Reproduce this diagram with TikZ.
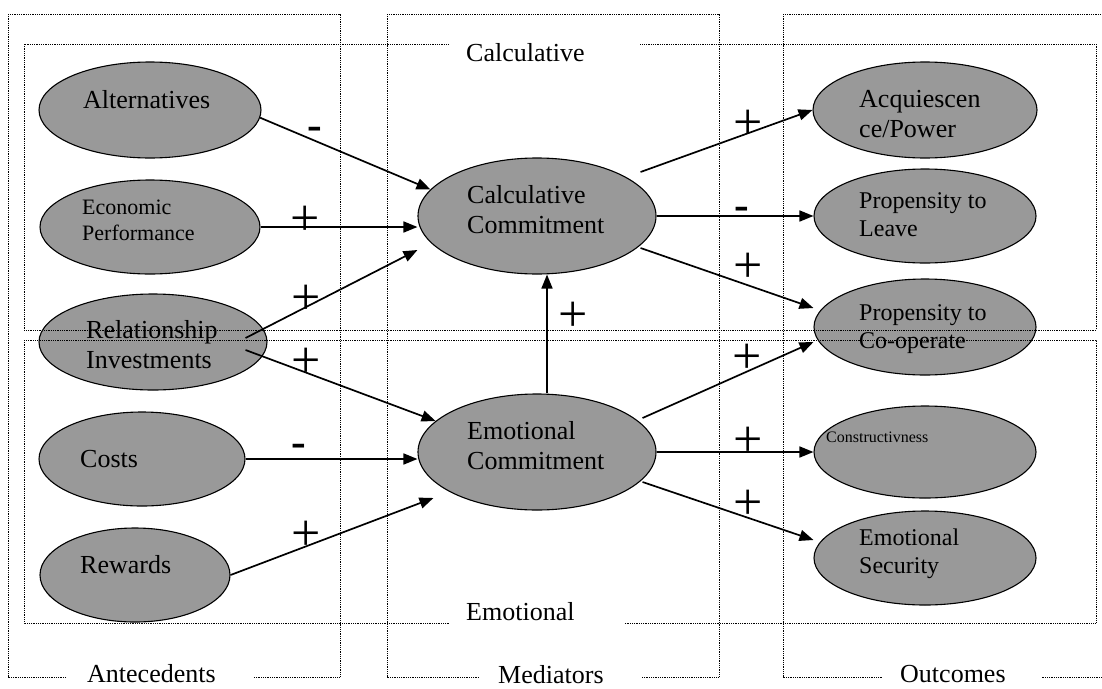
\documentclass[tikz,border=0pt]{standalone}
\usepackage{fontspec}
\setmainfont{Liberation Serif}
\usetikzlibrary{shapes.geometric,arrows.meta,positioning}

\begin{document}
\begin{tikzpicture}[
    x=1pt, y=-1pt,
    oval/.style={ellipse, draw, line width=1.1pt, fill=black!40, inner sep=0pt},
    txt/.style={anchor=base west, align=left, inner sep=0pt, font=\fontsize{26}{30}\selectfont},
    midtxt/.style={txt, font=\fontsize{24}{28}\selectfont},
    frame/.style={densely dotted, line width=0.8pt},
    tag/.style={anchor=base west, fill=white, inner xsep=16pt, inner ysep=4pt, align=left, font=\fontsize{26}{30}\selectfont},
    plus/.style={inner sep=0pt, font=\fontsize{52}{52}\selectfont},
    minus/.style={inner sep=0pt, yshift=-7pt, font=\bfseries\fontsize{44}{44}\selectfont},
    arrow/.style={-{Triangle[length=14pt,width=11pt]}, line width=1.7pt}
]
    \useasboundingbox (0,0) rectangle (1102,688);

    % antecedents
    \node[oval, minimum width=222pt, minimum height=96pt] (alt) at (150,110) {};
    \node[oval, minimum width=220pt, minimum height=94pt] (econ) at (150,227) {};
    \node[oval, minimum width=228pt, minimum height=96pt] (invest) at (153,342) {};
    \node[oval, minimum width=206pt, minimum height=94pt] (costs) at (142,459) {};
    \node[oval, minimum width=190pt, minimum height=94pt] (rewards) at (135,575) {};
    % (base of a two-line label is its last line)
    \node[txt] (altText) at (83,108) {Alternatives};
    \node[txt, font=\fontsize{22}{26}\selectfont] (econText) at (82,240) {Economic\\Performance};
    \node[txt] (investText) at (86,368) {Relationship\\Investments};
    \node[txt] (costsText) at (80,467) {Costs};
    \node[txt] (rewardsText) at (80,573) {Rewards};

    % mediators
    \node[oval, minimum width=238pt, minimum height=116pt] (calc) at (537,216) {};
    \node[oval, minimum width=238pt, minimum height=116pt] (emo) at (537,452) {};
    \node[txt] (calcText) at (467,233) {Calculative\\Commitment};
    \node[txt] (emoText) at (467,469) {Emotional\\Commitment};

    % outcomes
    \node[oval, minimum width=224pt, minimum height=96pt] (acq) at (925,110) {};
    \node[oval, minimum width=222pt, minimum height=94pt] (leave) at (925,216) {};
    \node[oval, minimum width=222pt, minimum height=96pt] (coop) at (925,327) {};
    \node[oval, minimum width=222pt, minimum height=92pt] (constr) at (925,452) {};
    \node[oval, minimum width=222pt, minimum height=94pt] (secur) at (925,558) {};
    \node[txt] (acqText) at (859,137) {Acquiescen\\ce/Power};
    \node[midtxt] (leaveText) at (859,236) {Propensity to\\Leave};
    \node[midtxt] (coopText) at (859,348) {Propensity to\\Co-operate};
    \node[txt, font=\fontsize{16}{19}\selectfont] (constrText) at (826,442) {Constructivness};
    \node[midtxt] (securText) at (859,573) {Emotional\\Security};

    % columns and rows
    \draw[frame] (8,14) rectangle (340,677);
    \draw[frame] (387,14) rectangle (719,677);
    \draw[frame] (783,14) rectangle (1106,677);
    \draw[frame] (24,44) rectangle (1096,330);
    \draw[frame] (24,340) rectangle (1096,623);

    \node[tag, text width=158pt] (calcRow) at (450,61) {Calculative};
    \node[tag, text width=143pt] (emoRow) at (450,620) {Emotional};
    \node[tag, inner xsep=20pt, text width=146pt] (antCol) at (67,682) {Antecedents};
    \node[tag, inner xsep=18pt, text width=126pt] (medCol) at (480,683) {Mediators};
    \node[tag, inner xsep=17pt, text width=125pt] (outCol) at (883,682) {Outcomes};

    % links
    \draw[arrow] (alt.-4) -- (calc.166);
    \draw[arrow] (econ.east) -- (econ.east -| calc.west);
    \draw[arrow] ([xshift=-22pt,yshift=4pt]invest.east) -- ([yshift=-34pt]calc.west);
    \draw[arrow] ([xshift=-22pt,yshift=-8pt]invest.east) -- (emo.163);
    \draw[arrow] (costs.east) -- (costs.east -| emo.west);
    \draw[arrow] (rewards.east) -- ([xshift=16pt,yshift=-46pt]emo.west);
    \draw[arrow] ([xshift=10pt]emo.north) -- ([xshift=10pt]calc.south);
    \draw[arrow] ([xshift=-16pt,yshift=44pt]calc.east) -- (acq.west);
    \draw[arrow] (calc.east) -- (calc.east -| leave.west);
    \draw[arrow] ([xshift=-16pt,yshift=-32pt]calc.east) -- ([yshift=19pt]coop.west);
    \draw[arrow] ([xshift=-14pt,yshift=34pt]emo.east) -- ([yshift=-15pt]coop.west);
    \draw[arrow] (emo.east) -- (emo.east -| constr.west);
    \draw[arrow] ([xshift=-14pt,yshift=-30pt]emo.east) -- ([yshift=18pt]secur.west);

    % signs
    \node[minus] (m1) at (315,126) {-};
    \node[plus] (p1) at (305,221) {+};
    \node[plus] (p2) at (306,300) {+};
    \node[plus] (p3) at (306,363) {+};
    \node[minus] (m2) at (299,443) {-};
    \node[plus] (p4) at (306,536) {+};
    \node[plus] (p5) at (573,317) {+};
    \node[plus] (p6) at (748,125) {+};
    \node[minus] (m3) at (742,206) {-};
    \node[plus] (p7) at (748,268) {+};
    \node[plus] (p8) at (747,359) {+};
    \node[plus] (p9) at (748,442) {+};
    \node[plus] (p10) at (748,505) {+};
\end{tikzpicture}
\end{document}
